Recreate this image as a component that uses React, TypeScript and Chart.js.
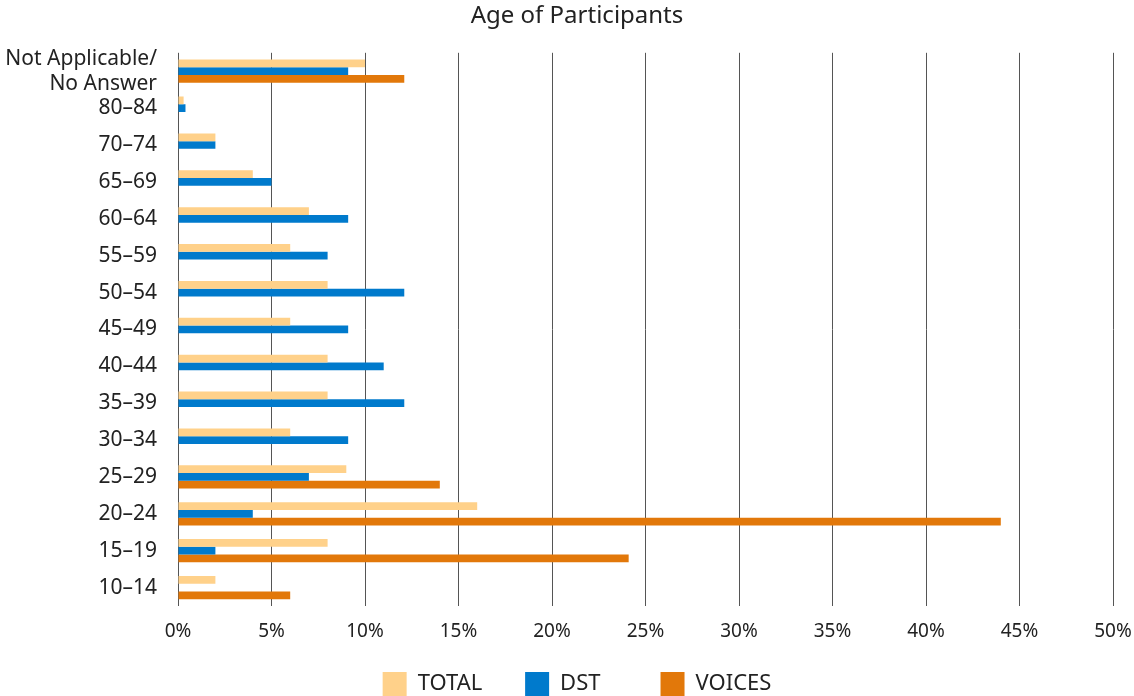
import React, { useEffect, useRef } from "react";
import { Chart, registerables } from "chart.js";

Chart.register(...registerables);

const categories: (string | string[])[] = [
  ["Not Applicable/", "No Answer"],
  "80–84",
  "70–74",
  "65–69",
  "60–64",
  "55–59",
  "50–54",
  "45–49",
  "40–44",
  "35–39",
  "30–34",
  "25–29",
  "20–24",
  "15–19",
  "10–14",
];

const seriesNames = ["TOTAL", "DST", "VOICES"];
const totalValues = [10, 0.3, 2, 4, 7, 6, 8, 6, 8, 8, 6, 9, 16, 8, 2];
const dstValues = [9.1, 0.4, 2, 5, 9.1, 8, 12.1, 9.1, 11, 12.1, 9.1, 7, 4, 2, 0];
const voicesValues = [12.1, 0, 0, 0, 0, 0, 0, 0, 0, 0, 0, 14, 44, 24.1, 6];

const xTicks = [0, 5, 10, 15, 20, 25, 30, 35, 40, 45, 50];

const FONT = "'Noto Sans', sans-serif";
const legendSpacers = ["    ", "       ", ""];

export default function App() {
  const ref = useRef<HTMLCanvasElement | null>(null);

  useEffect(() => {
    if (!ref.current) return;
    const chart = new Chart(ref.current, {
      type: "bar",
      data: {
        labels: categories,
        datasets: [
          { label: seriesNames[0], data: totalValues, backgroundColor: "#FFD18A", borderWidth: 0 },
          { label: seriesNames[1], data: dstValues, backgroundColor: "#007ACC", borderWidth: 0 },
          { label: seriesNames[2], data: voicesValues, backgroundColor: "#E2780A", borderWidth: 0 },
        ],
      },
      options: {
        indexAxis: "y",
        responsive: false,
        animation: false,
        layout: { padding: { left: 0, right: -20, top: 0, bottom: -10 } },
        datasets: { bar: { categoryPercentage: 0.63, barPercentage: 1 } },
        scales: {
          x: {
            min: 0,
            max: 50,
            afterBuildTicks: (axis: any) => {
              axis.ticks = xTicks.map((v) => ({ value: v }));
            },
            afterFit: (axis: any) => {
              axis.height = 46;
              axis.paddingLeft = 0;
              axis.paddingRight = 21;
            },
            ticks: {
              callback: (v: any) => v + "%",
              color: "#222",
              font: { family: FONT, size: 19 },
              padding: 14,
            },
            grid: { color: "#555", lineWidth: 1, drawTicks: false },
            border: { display: false },
          },
          y: {
            afterFit: (axis: any) => {
              axis.width = 178;
            },
            ticks: {
              color: "#222",
              font: { family: FONT, size: 21, lineHeight: 1.2 },
              padding: 13,
              autoSkip: false,
            },
            grid: { display: false },
            border: { display: false },
          },
        },
        plugins: {
          title: {
            display: true,
            text: "Age of Participants",
            color: "#222",
            font: { family: FONT, size: 24, weight: "normal" },
            padding: { top: 2, bottom: 22 },
          },
          legend: {
            position: "bottom",
            labels: {
              boxWidth: 24,
              boxHeight: 24,
              color: "#222",
              font: { family: FONT, size: 22 },
              padding: 20,
              generateLabels: (c: any) => {
                const items = (Chart.defaults.plugins.legend.labels as any).generateLabels(c);
                return items.map((it: any, i: number) => ({ ...it, text: it.text + legendSpacers[i] }));
              },
            },
          },
          tooltip: { enabled: false },
        },
      },
    });
    return () => chart.destroy();
  }, []);

  return (
    <div style={{ position: "fixed", left: 0, top: 0, width: 1134, height: 696, background: "#fff" }}>
      <canvas ref={ref} width={1134} height={696} />
    </div>
  );
}
